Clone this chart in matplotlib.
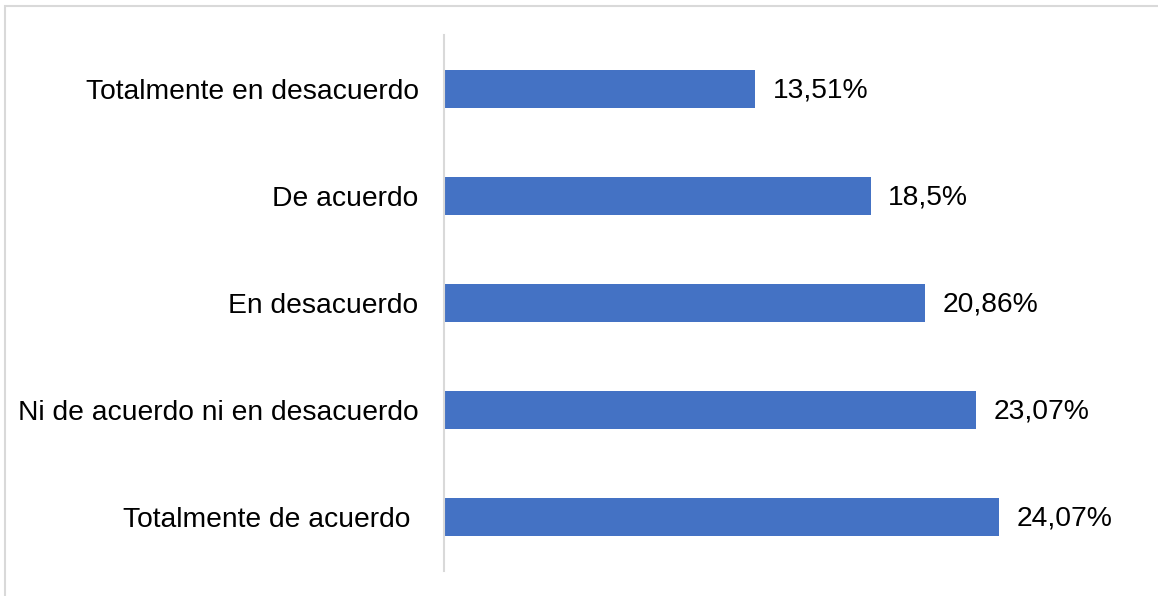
import matplotlib
matplotlib.use("Agg")
import matplotlib.pyplot as plt
from matplotlib.patches import Rectangle

categories = [
    "Totalmente de acuerdo ",
    "Ni de acuerdo ni en desacuerdo",
    "En desacuerdo",
    "De acuerdo",
    "Totalmente en desacuerdo",
]
values = [24.07, 23.07, 20.86, 18.5, 13.51]
value_labels = ["24,07%", "23,07%", "20,86%", "18,5%", "13,51%"]

plt.rcParams["font.family"] = ["Liberation Sans", "DejaVu Sans"]

W, H = 1158, 596
fig = plt.figure(figsize=(W / 100, H / 100), dpi=100)

# light frame around the chart area
fig.patches.append(Rectangle((5 / W, -0.1), 1.2, (H - 5.5) / H + 0.1,
                             transform=fig.transFigure, fill=False,
                             edgecolor="#d9d9d9", linewidth=1.5))

left, right = 443.5, 1140
top, bottom = 35, 571
ax = fig.add_axes([left / W, 1 - bottom / H, (right - left) / W, (bottom - top) / H])

px_per_unit = 23.09
ax.set_xlim(0, (right - left) / px_per_unit)
ax.set_ylim(-0.5, len(categories) - 0.5)

y = list(range(len(categories)))
ax.barh(y, values, height=0.355, color="#4472C4")

for yi, v, lab in zip(y, values, value_labels):
    ax.annotate(lab, (v, yi), xytext=(17, -1.5), textcoords="offset pixels",
                va="center", ha="left", fontsize=20.3, color="#000000")

ax.set_yticks(y)
ax.set_yticklabels(categories, fontsize=20.3, color="#000000")
ax.tick_params(axis="y", length=0, pad=18)
ax.set_xticks([])

for s in ["top", "right", "bottom"]:
    ax.spines[s].set_visible(False)
ax.spines["left"].set_color("#d9d9d9")
ax.spines["left"].set_linewidth(1.5)

fig.savefig("out.png", dpi=100)
